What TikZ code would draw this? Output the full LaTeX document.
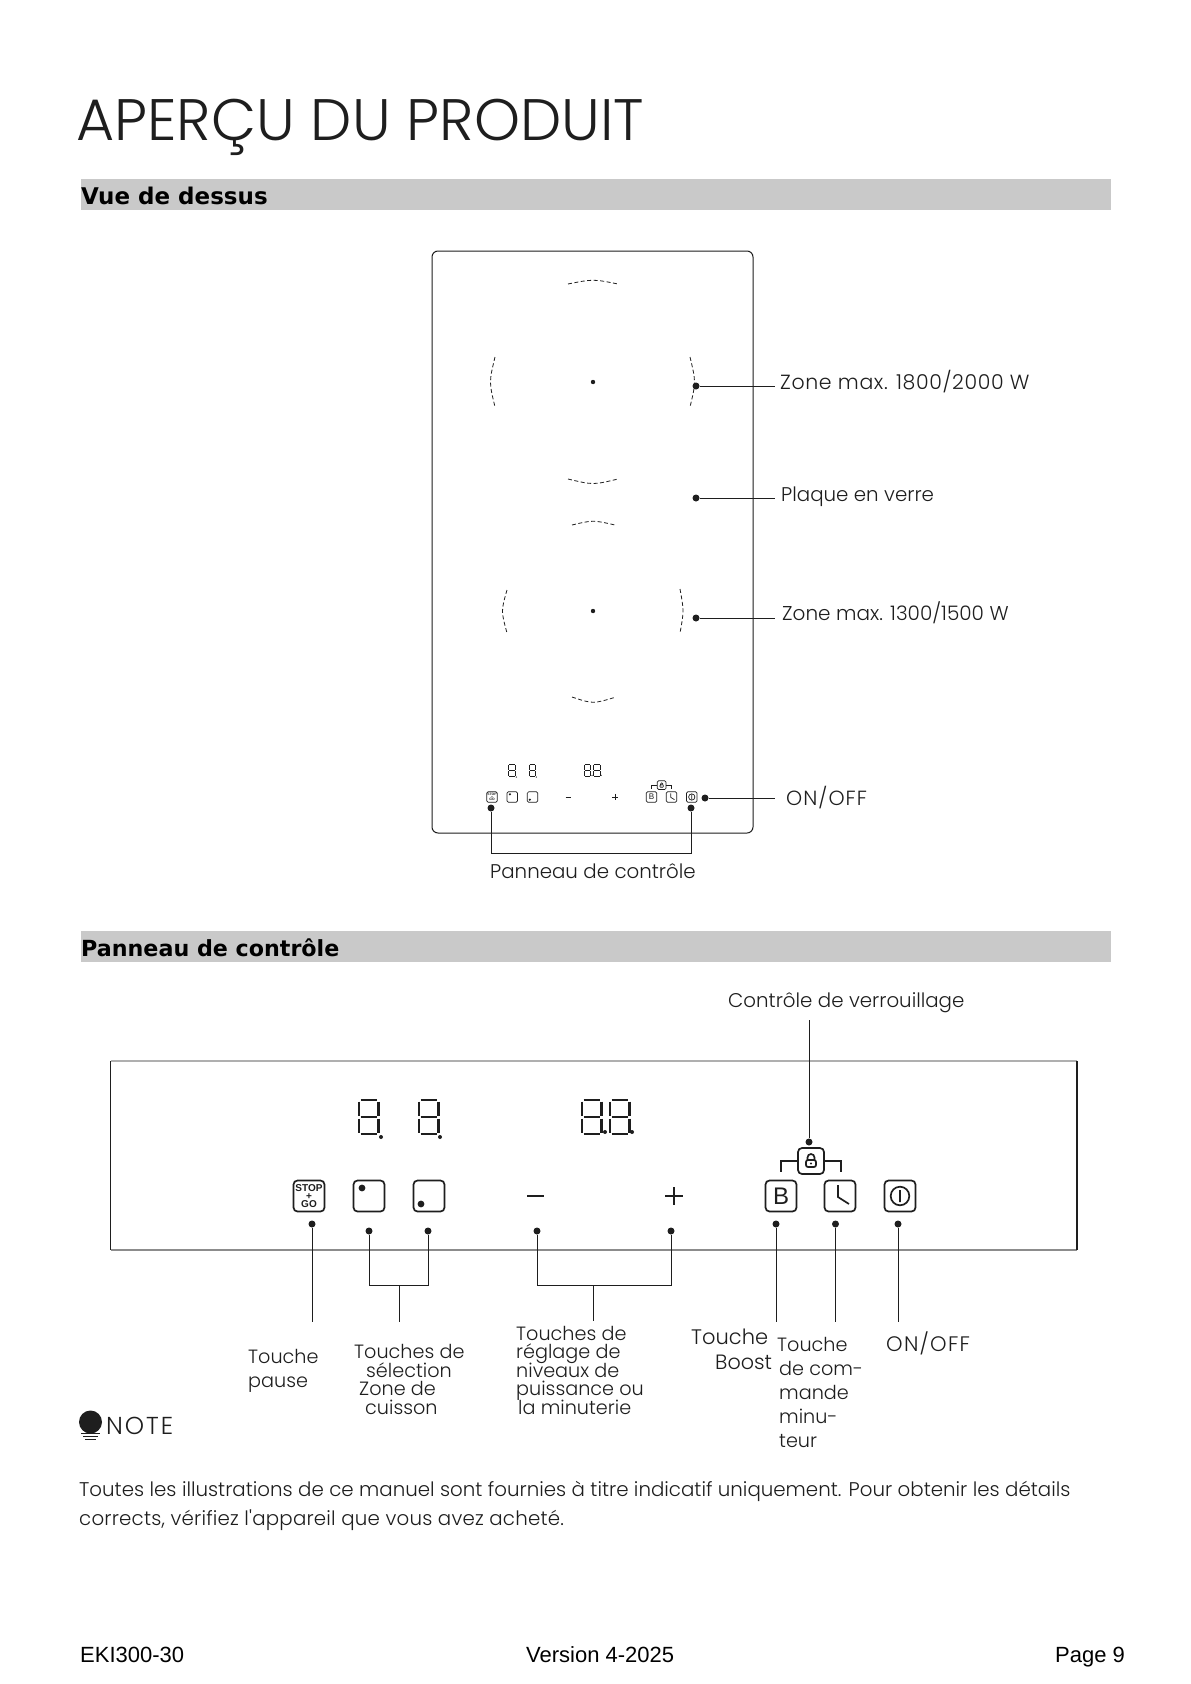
\documentclass[tikz,border=0pt]{standalone}
\usepackage{fontspec}
\setmainfont{Poppins}[UprightFont=* Light,Ligatures=TeXOff]
\newfontfamily\foot{Liberation Sans}
\newfontfamily\headf{DejaVu Sans}
\newfontfamily\keyf{Liberation Sans}
\newcommand{\fsz}[1]{\fontsize{#1}{#1}\selectfont}
\newcommand{\lsp}[1]{\addfontfeature{LetterSpace=#1}}
\definecolor{ink}{HTML}{1E1E1E}
\definecolor{barg}{HTML}{C9C9C9}
\definecolor{frameg}{HTML}{8C8C8C}
\def\plw{1.7}
\def\dlw{2.6}
\def\krad{4pt}
\def\lrad{2pt}
\newcommand{\sevenseg}[2]{%
  \begin{scope}[shift={(#1,#2)},line width=\dlw pt,line cap=butt,draw=ink]
    \draw (1.5,0)--(18,0); \draw (1.5,17)--(18,17); \draw (1.5,34)--(18,34);
    \draw (0,1.5)--(0,15.5); \draw (19.5,1.5)--(19.5,15.5);
    \draw (0,18.5)--(0,32.5); \draw (19.5,18.5)--(19.5,32.5);
  \end{scope}}
\newcommand{\paneldraw}{%
  \sevenseg{359}{1100}\fill[ink] (381,1137) circle (2);
  \sevenseg{419}{1100}\fill[ink] (440,1137) circle (2);
  \sevenseg{582}{1100}\fill[ink] (605,1132) circle (2);
  \sevenseg{610}{1100}\fill[ink] (632,1132) circle (2);
  \node[key] (stop) at (309,1196) {};
  \node[font=\keyf\bfseries\fontsize{10}{8}\selectfont,align=center,inner sep=0pt,text=ink] (stoptext) at (309,1196) {STOP\\+\\GO};
  \node[key] (sel1) at (369,1196) {};
  \fill[ink] (362,1188) circle (3.4);
  \node[key] (sel2) at (429,1196) {};
  \fill[ink] (421,1204) circle (3.4);
  \draw[line width=\plw pt,draw=ink] (527,1196)--(544,1196);
  \draw[line width=\plw pt,draw=ink] (665,1196)--(683,1196) (674,1187)--(674,1205);
  \node[key] (boost) at (781,1196) {};
  \node[font=\keyf\fsz{24},inner sep=0pt,text=ink] (boostb) at (781,1196) {B};
  \node[key] (timer) at (840,1196) {};
  \draw[line width=\plw pt,draw=ink] (838,1185)--(838,1197)--(849,1204);
  \node[key] (power) at (900,1196) {};
  \draw[line width=\plw pt,draw=ink] (900,1196) circle (9.3) (900,1190)--(900,1202);
  \node[key,minimum size=26pt] (lockbtn) at (811,1161) {};
  \draw[line width=\plw pt,draw=ink,rounded corners=\lrad] (806,1160) rectangle (816,1167);
  \draw[line width=\plw pt,draw=ink] (807.5,1160)--(807.5,1157.5) arc[start angle=180,end angle=360,radius=3.5]--(814.5,1160);
  \fill[ink] (811,1163.5) circle (1.2);
  \coordinate (bl) at (781,1172);
  \coordinate (br) at (841,1172);
  \draw[line width=\plw pt,draw=ink] (lockbtn.west) -| (bl);
  \draw[line width=\plw pt,draw=ink] (lockbtn.east) -| (br);
}
\begin{document}
\begin{tikzpicture}[x=1pt,y=-1pt,
  key/.style={draw=ink,rounded corners=\krad,minimum size=31pt,inner sep=0pt,line width=\plw pt,fill=white},
  pin/.style={circle,fill=ink,inner sep=0pt,minimum size=7pt},
  lead/.style={draw=ink,line width=1pt},
  lbl/.style={inner sep=0pt,anchor=base west,text=ink,font=\fsz{19.8}},
  lblb/.style={inner sep=0pt,anchor=base west,text=ink,font=\fsz{19.2}},
  head/.style={inner sep=0pt,anchor=base west,text=black,font=\headf\bfseries\fsz{23}},
  foottext/.style={inner sep=0pt,anchor=base west,text=black,font=\foot\fsz{22}},
  zonearc/.style={draw=ink,line width=.8pt,dash pattern=on 4pt off 2.5pt},
  bar/.style={fill=barg,draw=none,minimum width=1030pt,minimum height=31pt,inner sep=0pt,anchor=north west},
]
\useasboundingbox[fill=white] (0,0) rectangle (1191,1684);

% title
\node[inner sep=0pt,anchor=base west,text=ink,font=\fsz{58.5}] (title) at (76,140) {APERÇU DU PRODUIT};

% section bars
\node[bar] (bar1) at (81,179) {};
\node[head] (h1) at (81,204) {Vue de dessus};
\node[bar] (bar2) at (81,931) {};
\node[head,font=\headf\bfseries\fsz{22.2}] (h2) at (81,956) {Panneau de contrôle};

% hob outline
\draw[line width=1pt,draw=ink,rounded corners=6pt] (432,251) rectangle (753,833);

% zones
\draw[zonearc] (568,284) .. controls (593,279) .. (618,284);
\draw[zonearc] (568,479) .. controls (593,485) .. (618,479);
\draw[zonearc] (495,357) .. controls (489,382) .. (495,407);
\draw[zonearc] (690,357) .. controls (696,382) .. (690,407);
\fill[ink] (593,382) circle (2.2);
\draw[zonearc] (572,525) .. controls (593,520) .. (615,525);
\draw[zonearc] (572,697) .. controls (593,704) .. (616,697);
\draw[zonearc] (507,590) .. controls (501,611) .. (507,633);
\draw[zonearc] (680,589) .. controls (684,611) .. (680,633);
\fill[ink] (593,611) circle (2.2);

% mini panel
\begin{scope}[shift={(492,797)},scale=.338,shift={(-309,-1196)},transform shape,name prefix=m-]
  \def\plw{.7}
  \def\dlw{1}
  \def\krad{1.4pt}
  \def\lrad{.7pt}
  \paneldraw
\end{scope}

% top view callouts
\node[pin] (d1) at (696,386) {};
\coordinate (e1) at (775,386);
\draw[lead] (d1) -- (e1);
\node[pin] (d2) at (696,498) {};
\coordinate (e2) at (775,498);
\draw[lead] (d2) -- (e2);
\node[pin] (d3) at (696,618) {};
\coordinate (e3) at (775,618);
\draw[lead] (d3) -- (e3);
\node[pin] (d4) at (705,798) {};
\coordinate (e4) at (775,798);
\draw[lead] (d4) -- (e4);
\node[pin] (dp1) at (491,808) {};
\node[pin] (dp2) at (691,808) {};
\coordinate (pj) at (591,853);
\draw[lead] (dp1) |- (pj) -| (dp2);

\node[lbl,font=\fsz{20.5}\lsp{3}] (t1) at (780,389) {Zone max. 1800/2000 W};
\node[lbl] (t2) at (781,501) {Plaque en verre};
\node[lbl,font=\fsz{20}] (t3) at (782,620) {Zone max. 1300/1500 W};
\node[lbl,font=\fsz{20.5}\lsp{5}] (t4) at (786,805) {ON/OFF};
\node[lbl] (t5) at (490,878) {Panneau de contrôle};

% big panel
\coordinate (ptl) at (110.6,1061);
\coordinate (ptr) at (1077,1061);
\coordinate (pbl) at (110.6,1250);
\coordinate (pbr) at (1077,1250);
\draw[line width=1.2pt,draw=frameg!70] (ptl) -- (ptr);
\draw[line width=1.2pt,draw=frameg] (pbl) -- (pbr);
\draw[line width=1.6pt,draw=ink] (ptl) -- (pbl);
\draw[line width=1.6pt,draw=ink] (ptr) -- (pbr);
\paneldraw

% big panel callouts
\node[pin] (dstop) at (312,1224) {};
\coordinate (estop) at (312,1322);
\draw[lead] (dstop) -- (estop);
\node[pin] (dsel1) at (369,1231) {};
\node[pin] (dsel2) at (428,1231) {};
\coordinate (selj) at (399,1285);
\coordinate (sele) at (399,1322);
\draw[lead] (dsel1) |- (selj) -| (dsel2);
\draw[lead] (selj) -- (sele);
\node[pin] (dmin) at (537,1231) {};
\node[pin] (dplus) at (671,1231) {};
\coordinate (lvlj) at (593,1285);
\coordinate (lvle) at (593,1321);
\draw[lead] (dmin) |- (lvlj) -| (dplus);
\draw[lead] (lvlj) -- (lvle);
\node[pin] (dboost) at (776,1224) {};
\coordinate (eboost) at (776,1322);
\draw[lead] (dboost) -- (eboost);
\node[pin] (dtimer) at (835.5,1224) {};
\coordinate (etimer) at (835.5,1322);
\draw[lead] (dtimer) -- (etimer);
\node[pin] (don) at (898,1224) {};
\coordinate (eon) at (898,1322);
\draw[lead] (don) -- (eon);
\node[pin] (dlock) at (809,1142) {};
\coordinate (elock) at (809,1020);
\draw[lead] (dlock) -- (elock);

\node[lbl] (tl) at (728,1007) {Contrôle de verrouillage};
\node[lblb] (p1) at (248,1363) {Touche};
\node[lblb] (p2) at (248,1387) {pause};
\node[lblb] (s1) at (354,1358) {Touches de};
\node[lblb] (s2) at (366,1377) {sélection};
\node[lblb] (s3) at (359,1395) {Zone de};
\node[lblb] (s4) at (365,1414) {cuisson};
\node[lblb] (r1) at (516,1340) {Touches de};
\node[lblb] (r2) at (516,1358) {réglage de};
\node[lblb] (r3) at (516,1377) {niveaux de};
\node[lblb] (r4) at (516,1395) {puissance ou};
\node[lblb] (r5) at (518,1414) {la minuterie};
\node[lblb,font=\fsz{21}] (b1) at (691,1344) {Touche};
\node[lblb,font=\fsz{20.7}] (b2) at (715,1369) {Boost};
\node[lblb] (c1) at (777,1351) {Touche};
\node[lblb] (c2) at (779,1375) {de com-};
\node[lblb] (c3) at (779,1399) {mande};
\node[lblb] (c4) at (779,1423) {minu-};
\node[lblb] (c5) at (779,1447) {teur};
\node[lblb,font=\fsz{21}\lsp{6}] (o1) at (886,1351) {ON/OFF};

% note
\fill[ink] (90.5,1422) circle (11.5);
\fill[ink] (83,1428) rectangle (98,1431);
\draw[ink,line width=1pt] (81,1433)--(100,1433) (83,1436)--(98,1436) (85,1439)--(96,1439);
\node[inner sep=0pt,anchor=base west,text=ink,font=\fsz{24.5}\lsp{8}] (note) at (106,1434) {NOTE};
\node[lblb,font=\fsz{19.8}] (n1) at (79,1496) {Toutes les illustrations de ce manuel sont fournies à titre indicatif uniquement. Pour obtenir les détails};
\node[lblb,font=\fsz{19.8}\lsp{1}] (n2) at (79,1525) {corrects, vérifiez l'appareil que vous avez acheté.};

% footer
\node[foottext] (f1) at (80,1662) {EKI300-30};
\node[foottext] (f2) at (526,1662) {Version 4-2025};
\node[foottext] (f3) at (1055,1662) {Page 9};
\end{tikzpicture}
\end{document}
